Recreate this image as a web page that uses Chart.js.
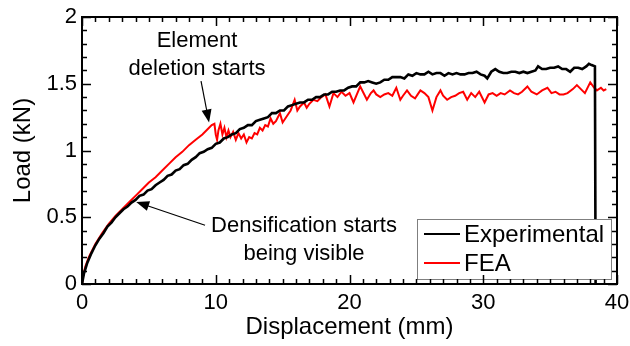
<!DOCTYPE html>
<html>
<head>
<meta charset="utf-8">
<script src="https://cdn.jsdelivr.net/npm/chart.js@4"></script>
<style>
html,body{margin:0;padding:0;background:#fff;}
canvas{display:block;}
</style>
</head>
<body>
<canvas id="c" width="630" height="346"></canvas>
<script>
// ---- data ----
const expX = [0,0.15,0.4,0.7,1.0,1.3,1.6,1.9,2.2,2.5,2.8,3.1,3.4,3.7,4.0,4.3,4.6,4.9,5.2,5.5,5.8,6.1,6.4,6.7,7.0,7.3,7.6,7.9,8.2,8.5,8.8,9.1,9.4,9.7,10.0,10.3,10.6,10.9,11.2,11.5,11.8,12.1,12.4,12.7,13.0,13.3,13.6,13.9,14.2,14.5,14.8,15.1,15.4,15.7,16.0,16.3,16.6,16.9,17.2,17.5,17.8,18.1,18.4,18.7,19.0,19.3,19.6,19.9,20.2,20.5,20.8,21.1,21.4,21.7,22.0,22.3,22.6,22.9,23.2,23.5,23.8,24.1,24.4,24.7,25.0,25.3,25.6,25.9,26.2,26.5,26.8,27.1,27.4,27.7,28.0,28.3,28.6,28.9,29.2,29.5,29.8,30.1,30.3,30.6,30.9,31.2,31.5,31.8,32.1,32.4,32.7,33.0,33.3,33.6,33.9,34.1,34.4,34.7,35.0,35.3,35.6,35.9,36.2,36.5,36.8,37.1,37.4,37.7,37.9,38.1,38.35,38.4];
const expY = [0,0.08,0.16,0.23,0.29,0.34,0.38,0.43,0.46,0.50,0.53,0.56,0.58,0.61,0.63,0.66,0.67,0.70,0.71,0.74,0.76,0.78,0.81,0.82,0.85,0.86,0.89,0.90,0.93,0.95,0.98,0.99,1.01,1.02,1.05,1.06,1.09,1.10,1.12,1.13,1.16,1.17,1.19,1.19,1.22,1.23,1.24,1.25,1.28,1.28,1.30,1.30,1.33,1.34,1.35,1.36,1.36,1.38,1.38,1.40,1.40,1.42,1.42,1.44,1.44,1.45,1.45,1.47,1.48,1.48,1.51,1.51,1.52,1.51,1.50,1.51,1.53,1.53,1.55,1.55,1.55,1.54,1.57,1.56,1.58,1.57,1.57,1.59,1.57,1.58,1.58,1.56,1.58,1.57,1.58,1.57,1.57,1.58,1.58,1.59,1.57,1.56,1.54,1.59,1.61,1.59,1.58,1.58,1.59,1.59,1.58,1.59,1.58,1.59,1.60,1.63,1.61,1.61,1.62,1.62,1.63,1.61,1.61,1.59,1.62,1.62,1.61,1.63,1.65,1.64,1.63,0];

const feaX = [0,0.1,0.25,0.5,1.0,1.5,2.0,2.5,3.0,3.5,4.0,4.5,5.0,5.5,6.0,6.5,7.0,7.5,8.0,8.5,9.0,9.5,9.7,9.9,10.0,10.1,10.2,10.35,10.5,10.65,10.8,10.95,11.1,11.3,11.5,11.7,11.9,12.1,12.3,12.5,12.7,12.9,13.1,13.3,13.5,13.7,13.9,14.1,14.3,14.5,14.8,15.0,15.2,15.4,15.6,15.9,16.1,16.3,16.6,16.8,17.0,17.3,17.6,17.9,18.2,18.5,18.8,19.1,19.4,19.7,20.0,20.3,20.8,21.0,21.3,21.6,21.8,22.0,22.3,22.6,22.9,23.2,23.5,23.8,24.0,24.3,24.6,24.9,25.1,25.3,25.6,25.9,26.2,26.5,26.8,27.0,27.3,27.6,27.9,28.2,28.5,28.8,29.1,29.4,29.7,30.1,30.4,30.7,31.0,31.3,31.6,32.0,32.3,32.6,32.9,33.3,33.6,34.0,34.4,34.8,35.1,35.4,35.7,36.0,36.3,36.7,37.0,37.3,37.6,38.0,38.3,38.5,38.8,39.0,39.2];
const feaY = [0,0.07,0.13,0.2,0.3,0.38,0.45,0.51,0.56,0.61,0.66,0.71,0.76,0.80,0.85,0.90,0.95,0.99,1.04,1.08,1.12,1.17,1.19,1.20,1.12,1.08,1.15,1.20,1.12,1.17,1.10,1.15,1.10,1.14,1.08,1.13,1.09,1.12,1.06,1.10,1.09,1.13,1.12,1.17,1.15,1.19,1.18,1.24,1.20,1.22,1.28,1.21,1.24,1.27,1.30,1.38,1.30,1.33,1.36,1.32,1.35,1.38,1.37,1.40,1.42,1.33,1.43,1.40,1.44,1.41,1.43,1.36,1.48,1.44,1.38,1.43,1.45,1.42,1.40,1.42,1.43,1.41,1.47,1.38,1.41,1.45,1.41,1.39,1.42,1.45,1.43,1.40,1.30,1.40,1.45,1.41,1.38,1.40,1.41,1.43,1.44,1.38,1.43,1.40,1.44,1.36,1.42,1.43,1.41,1.43,1.42,1.45,1.43,1.42,1.44,1.48,1.44,1.42,1.45,1.47,1.43,1.44,1.42,1.42,1.43,1.46,1.49,1.46,1.43,1.51,1.47,1.45,1.47,1.45,1.46];

const seriesNames = ['Experimental', 'FEA'];
const xTickValues = [0, 10, 20, 30, 40];
const yTickValues = [0, 0.5, 1, 1.5, 2];
const yTickLabels = ['0', '0.5', '1', '1.5', '2'];
const xTitle = 'Displacement (mm)';
const yTitle = 'Load (kN)';

// annotations (text and arrow in data units)
const annotations = [
  { lines: ['Element', 'deletion starts'], x: 8.6, y: [1.775, 1.566], from: [8.9, 1.52], to: [9.5, 1.21] },
  { lines: ['Densification starts', 'being visible'], x: 16.6, y: [0.39, 0.18], from: [9.2, 0.44], to: [4.05, 0.615] }
];

const FONT = 'Arial, "Liberation Sans", Helvetica, sans-serif';
const toPts = (xs, ys) => xs.map((v, i) => ({ x: v, y: ys[i] }));

const framePlugin = {
  id: 'frame',
  afterDatasetsDraw(chart) {
    const { ctx, chartArea: a, scales: { x, y } } = chart;
    ctx.save();
    // annotations
    ctx.fillStyle = '#000';
    ctx.strokeStyle = '#000';
    ctx.font = '22px ' + FONT;
    ctx.textAlign = 'center';
    ctx.textBaseline = 'alphabetic';
    annotations.forEach(an => {
      an.lines.forEach((t, i) => ctx.fillText(t, x.getPixelForValue(an.x), y.getPixelForValue(an.y[i])));
      const x0 = x.getPixelForValue(an.from[0]), y0 = y.getPixelForValue(an.from[1]);
      const x1 = x.getPixelForValue(an.to[0]), y1 = y.getPixelForValue(an.to[1]);
      const ang = Math.atan2(y1 - y0, x1 - x0);
      const hl = 13, hw = 5;
      ctx.lineWidth = 1.2;
      ctx.beginPath();
      ctx.moveTo(x0, y0);
      ctx.lineTo(x1 - Math.cos(ang) * hl * 0.8, y1 - Math.sin(ang) * hl * 0.8);
      ctx.stroke();
      ctx.beginPath();
      ctx.moveTo(x1, y1);
      ctx.lineTo(x1 - Math.cos(ang) * hl - Math.sin(ang) * hw, y1 - Math.sin(ang) * hl + Math.cos(ang) * hw);
      ctx.lineTo(x1 - Math.cos(ang) * hl + Math.sin(ang) * hw, y1 - Math.sin(ang) * hl - Math.cos(ang) * hw);
      ctx.closePath();
      ctx.fill();
    });

    // legend box
    const lw = 194, lh = 60;
    const lx = a.right - 6 - lw, ly = a.bottom - 5 - lh;
    ctx.fillStyle = '#fff';
    ctx.fillRect(lx, ly, lw, lh);
    ctx.strokeStyle = '#7f7f7f';
    ctx.lineWidth = 1;
    ctx.strokeRect(lx + 0.5, ly + 0.5, lw, lh);
    ctx.font = '24px ' + FONT;
    ctx.textAlign = 'left';
    ctx.textBaseline = 'middle';
    chart.data.datasets.forEach((ds, i) => {
      const cy = ly + 15 + i * 29;
      ctx.strokeStyle = ds.borderColor;
      ctx.lineWidth = 2;
      ctx.beginPath();
      ctx.moveTo(lx + 7, cy);
      ctx.lineTo(lx + 43, cy);
      ctx.stroke();
      ctx.fillStyle = '#000';
      ctx.fillText(ds.label, lx + 47, cy + 1);
    });

    // frame
    ctx.strokeStyle = '#000';
    ctx.lineWidth = 2;
    ctx.strokeRect(a.left, a.top, a.right - a.left, a.bottom - a.top);
    // ticks, inward on all sides
    ctx.lineWidth = 1.5;
    ctx.beginPath();
    for (let v = x.min; v <= x.max + 1e-9; v += 1) {
      const px = Math.round(x.getPixelForValue(v)) + 0.5;
      const L = (Math.abs(v % 10) < 1e-9) ? 9 : 5;
      ctx.moveTo(px, a.bottom); ctx.lineTo(px, a.bottom - L);
      ctx.moveTo(px, a.top); ctx.lineTo(px, a.top + L);
    }
    for (let k = 0; k <= 20; k++) {
      const v = k / 10;
      const py = Math.round(y.getPixelForValue(v)) + 0.5;
      const L = (k % 5 === 0) ? 9 : 5;
      ctx.moveTo(a.left, py); ctx.lineTo(a.left + L, py);
      ctx.moveTo(a.right, py); ctx.lineTo(a.right - L, py);
    }
    ctx.stroke();
    ctx.restore();
  }
};

new Chart(document.getElementById('c'), {
  type: 'scatter',
  data: {
    datasets: [
      { label: seriesNames[0], data: toPts(expX, expY), borderColor: '#000000', backgroundColor: '#000000', borderWidth: 2.6, showLine: true, pointRadius: 0, tension: 0 },
      { label: seriesNames[1], data: toPts(feaX, feaY), borderColor: '#ff0000', backgroundColor: '#ff0000', borderWidth: 2, showLine: true, pointRadius: 0, tension: 0 }
    ]
  },
  options: {
    responsive: false,
    devicePixelRatio: 1,
    animation: false,
    layout: { padding: { left: 0, right: 13, top: 17, bottom: 0 } },
    plugins: { legend: { display: false }, tooltip: { enabled: false } },
    scales: {
      x: {
        type: 'linear', min: 0, max: 40,
        afterBuildTicks: s => { s.ticks = xTickValues.map(v => ({ value: v })); },
        afterFit: s => { s.height = 62; s.paddingLeft = 0; s.paddingRight = 0; },
        grid: { display: false, drawTicks: false },
        border: { display: false },
        ticks: { color: '#000', font: { family: FONT, size: 22 }, padding: 6, maxRotation: 0 },
        title: { display: true, text: xTitle, color: '#000', font: { family: FONT, size: 24 }, padding: { top: 0, bottom: 4 } }
      },
      y: {
        type: 'linear', min: 0, max: 2,
        afterBuildTicks: s => { s.ticks = yTickValues.map(v => ({ value: v })); },
        afterFit: s => { s.width = 82; s.paddingTop = 0; s.paddingBottom = 0; },
        grid: { display: false, drawTicks: false },
        border: { display: false },
        ticks: { color: '#000', font: { family: FONT, size: 22 }, padding: 5,
          callback: v => { const i = yTickValues.indexOf(v); return i >= 0 ? yTickLabels[i] : ''; } },
        title: { display: true, text: yTitle, color: '#000', font: { family: FONT, size: 24 }, padding: { top: 9, bottom: 0 } }
      }
    }
  },
  plugins: [framePlugin]
});
</script>
</body>
</html>
